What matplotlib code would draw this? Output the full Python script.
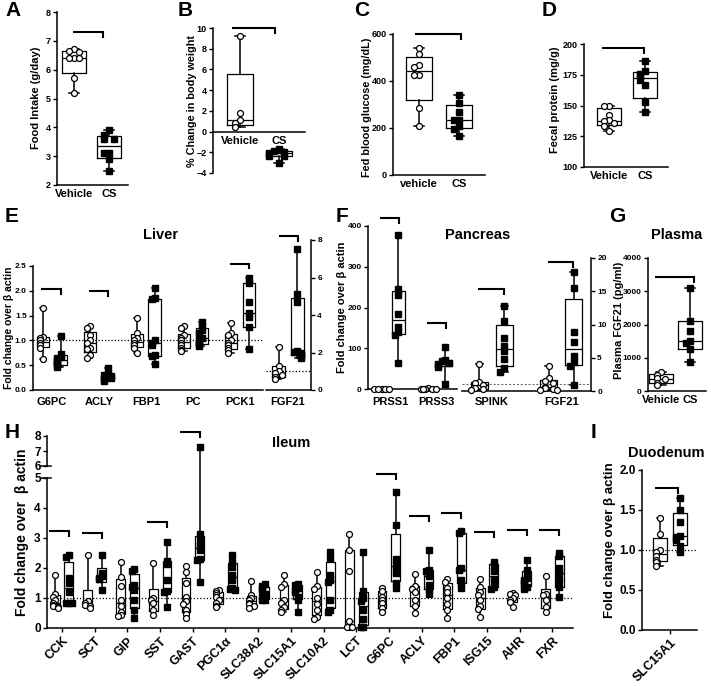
import matplotlib

matplotlib.use("Agg")

import matplotlib.pyplot as plt
import numpy as np
from matplotlib.ticker import FormatStrFormatter

plt.rcParams["font.family"] = ["Liberation Sans", "DejaVu Sans"]
plt.rcParams["font.weight"] = "bold"
plt.rcParams["axes.labelweight"] = "bold"
plt.rcParams["axes.linewidth"] = 1.1

W, H = 711, 686

# ---------------- data ----------------
two_groups = ["Vehicle", "CS"]

# A: food intake (g/day)
a_vehicle = [6.7, 6.65, 6.6, 6.4, 6.4, 6.4, 5.7, 5.2]
a_cs = [3.9, 3.75, 3.6, 3.6, 3.1, 3.1, 2.9, 2.5]

# B: % change in body weight
b_vehicle = [9.25, 1.8, 1.1, 0.8, 0.4]
b_cs = [-1.7, -1.9, -2.0, -2.1, -2.4, -2.4, -3.0]

# C: fed blood glucose (mg/dL)
c_vehicle = [540, 515, 470, 460, 425, 425, 285, 210]
c_cs = [340, 305, 270, 235, 232, 210, 195, 165]

# D: fecal protein (mg/g)
d_vehicle = [150, 150, 142, 138, 137, 136, 133, 129]
d_cs = [186, 178, 176, 174, 171, 167, 153, 145]

# E: liver, fold change over beta actin
liver_genes = ["G6PC", "ACLY", "FBP1", "PC", "PCK1"]
liver_vehicle = [
    [1.66, 1.07, 1.05, 1.0, 0.95, 0.9, 0.85, 0.62],
    [1.3, 1.25, 1.1, 1.0, 0.95, 0.85, 0.82, 0.7, 0.65],
    [1.45, 1.15, 1.05, 1.0, 0.95, 0.9, 0.85, 0.75],
    [1.3, 1.25, 1.1, 1.05, 1.0, 0.95, 0.9, 0.85, 0.8, 0.78],
    [1.35, 1.15, 1.1, 1.0, 0.95, 0.9, 0.85, 0.8, 0.75],
]
liver_cs = [
    [1.09, 0.73, 0.66, 0.62, 0.58, 0.55, 0.5, 0.47],
    [0.45, 0.33, 0.3, 0.28, 0.25, 0.22, 0.18],
    [2.05, 1.85, 1.83, 1.0, 0.95, 0.9, 0.7, 0.68, 0.52],
    [1.38, 1.3, 1.2, 1.15, 1.05, 1.0, 0.95, 0.9, 0.88],
    [2.25, 2.15, 1.78, 1.55, 1.48, 1.28, 0.83],
]
liver_fgf21_vehicle = [2.3, 1.3, 1.0, 0.9, 0.8, 0.7, 0.6]
liver_fgf21_cs = [7.5, 5.1, 4.7, 2.1, 2.05, 2.0, 1.9, 1.8, 1.7]

# F: pancreas
pancreas_genes_left = ["PRSS1", "PRSS3"]
pancreas_vehicle_left = [[1.2, 1.0, 0.9, 0.8, 1.1], [1.3, 1.0, 0.8, 0.9, 1.1, 0.7]]
pancreas_cs_left = [
    [378, 245, 230, 185, 152, 140, 133, 65],
    [103, 72, 68, 65, 62, 58, 55, 12],
]
pancreas_genes_right = ["SPINK", "FGF21"]
pancreas_vehicle_right = [
    [4.0, 1.4, 1.2, 0.9, 0.4, 0.3, 0.2],
    [3.8, 1.9, 1.5, 1.2, 0.6, 0.4, 0.3, 0.2, 0.2],
]
pancreas_cs_right = [
    [12.8, 10.6, 7.9, 6.7, 5.95, 4.8, 3.5, 2.8],
    [17.9, 15.5, 8.8, 7.3, 5.3, 4.4, 3.8, 0.9],
]

# G: plasma FGF21 (pg/ml)
g_vehicle = [575, 480, 400, 350, 250, 180]
g_cs = [3100, 2100, 1800, 1500, 1450, 1250, 860]

# H: ileum
ileum_genes = ["CCK", "SCT", "GIP", "SST", "GAST", "PGC1\u03b1", "SLC38A2",
               "SLC15A1", "SLC10A2", "LCT", "G6PC", "ACLY", "FBP1", "ISG15",
               "AHR", "FXR"]
ileum_vehicle = [
    [1.77, 1.15, 1.05, 0.95, 0.85, 0.77, 0.72, 0.7, 0.66],
    [2.43, 0.9, 0.82, 0.78, 0.72, 0.68],
    [2.2, 1.7, 1.4, 0.95, 0.72, 0.55, 0.45, 0.4],
    [2.17, 1.0, 0.95, 0.82, 0.6, 0.45],
    [2.08, 1.86, 1.5, 1.05, 0.9, 0.8, 0.6, 0.48, 0.32],
    [1.28, 1.22, 1.18, 1.1, 1.05, 0.95, 0.85, 0.75, 0.7],
    [1.57, 1.1, 1.0, 0.93, 0.85, 0.8, 0.75, 0.68],
    [1.77, 1.47, 1.38, 0.93, 0.85, 0.7, 0.6, 0.52],
    [1.88, 1.4, 1.3, 1.0, 0.8, 0.6, 0.38, 0.3],
    [3.15, 2.6, 1.9, 0.25, 0.05, 0.02, 0.02],
    [1.32, 1.22, 1.05, 0.95, 0.82, 0.66, 0.55],
    [1.8, 1.4, 1.3, 1.2, 0.95, 0.72, 0.5],
    [1.63, 1.55, 1.35, 1.2, 1.0, 0.8, 0.6, 0.33],
    [1.62, 1.38, 1.2, 1.1, 0.93, 0.72, 0.62, 0.38],
    [1.18, 1.15, 1.1, 1.0, 0.95, 0.88, 0.71],
    [1.75, 1.15, 1.1, 0.95, 0.7, 0.55],
]
ileum_cs = [
    [2.43, 2.38, 1.66, 1.5, 1.2, 0.83, 0.82, 0.82],
    [2.42, 1.85, 1.75, 1.68, 1.62, 1.27],
    [1.97, 1.9, 1.45, 1.38, 1.27, 0.93, 0.6, 0.32],
    [2.88, 2.25, 2.15, 1.6, 1.25, 1.2, 0.71],
    [7.25, 3.12, 2.9, 2.72, 2.6, 2.3, 2.27, 1.54],
    [2.43, 2.2, 2.05, 1.77, 1.6, 1.32, 1.3, 1.27],
    [1.47, 1.4, 1.3, 1.25, 1.15, 1.05, 0.95, 0.92],
    [1.48, 1.45, 1.32, 1.27, 1.2, 1.05, 0.95, 0.55],
    [2.52, 2.35, 1.77, 1.6, 1.55, 0.93, 0.6, 0.55],
    [2.55, 1.25, 1.0, 0.9, 0.6, 0.3, 0.05, 0.03],
    [4.52, 3.43, 2.3, 2.15, 2.0, 1.82, 1.5, 1.32],
    [2.6, 1.95, 1.9, 1.75, 1.45, 1.3, 1.15],
    [3.22, 3.16, 2.0, 1.93, 1.6, 1.5, 1.32],
    [2.2, 2.1, 1.9, 1.6, 1.38, 1.3],
    [2.28, 1.95, 1.7, 1.6, 1.55, 1.48, 1.38, 1.3],
    [2.5, 2.4, 2.0, 1.85, 1.6, 1.38, 1.05],
]
# significance bracket heights (fold change) for the ileum genes
ileum_sig = {"CCK": 3.23, "SCT": 3.17, "SST": 3.55, "GAST": 8.3, "G6PC": 5.33,
             "ACLY": 3.73, "FBP1": 3.83, "ISG15": 3.2, "AHR": 3.27, "FXR": 3.27}

# I: duodenum
duodenum_genes = ["SLC15A1"]
duodenum_vehicle = [1.4, 1.2, 1.0, 0.97, 0.92, 0.88, 0.85, 0.8]
duodenum_cs = [1.65, 1.5, 1.35, 1.18, 1.16, 1.12, 1.05, 0.98]

BETA_LABEL = "Fold change over \u03b2 actin"

fig = plt.figure(figsize=(W / 100, H / 100), dpi=100)


def add_ax(x0, y0, x1, y1):
    return fig.add_axes([x0 / W, 1 - y1 / H, (x1 - x0) / W, (y1 - y0) / H])


def quart(v, p):
    # Prism-style quartiles, position (n + 1) * p
    s = np.sort(np.asarray(v, float))
    n = len(s)
    pos = (n + 1) * p
    k = int(np.floor(pos))
    f = pos - k
    if k < 1:
        return s[0]
    if k >= n:
        return s[-1]
    return s[k - 1] + f * (s[k] - s[k - 1])


def box_points(ax, vals, pos, width, marker, step, delta, ms=4.3):
    vals = np.asarray(vals, float)
    st = dict(med=quart(vals, 0.5), q1=quart(vals, 0.25), q3=quart(vals, 0.75),
              whislo=vals.min(), whishi=vals.max(), fliers=[])
    lp = dict(color="k", lw=0.9)
    ax.bxp([st], positions=[pos], widths=width, capwidths=width * 0.4,
           showfliers=False, manage_ticks=False, boxprops=lp, medianprops=lp,
           whiskerprops=dict(color="k", lw=1.1), capprops=dict(color="k", lw=1.1))
    xs = np.zeros(len(vals))
    placed = []
    pattern = [0, -1, 1, -2, 2, -1.5, 1.5]
    for i in np.argsort(-vals):
        k = sum(abs(vals[i] - vals[j]) < delta for j in placed)
        xs[i] = pos + pattern[k % 7] * step
        placed.append(i)
    if marker == "o":
        ax.plot(xs, vals, "o", mfc="white", mec="k", mew=0.9, ms=ms, ls="none",
                zorder=3, clip_on=False)
    else:
        ax.plot(xs, vals, "s", color="k", ms=ms, ls="none", zorder=3, clip_on=False)


def bracket(ax, x0, x1, y, drop, lw=1.5):
    ax.plot([x0, x1, x1], [y, y, y - drop], color="k", lw=lw, clip_on=False,
            solid_capstyle="butt", solid_joinstyle="miter")


def style(ax, yfs=6.5, xfs=8, right=False, xpad=3):
    ax.spines["top"].set_visible(False)
    if right:
        ax.spines["left"].set_visible(False)
        ax.yaxis.tick_right()
    else:
        ax.spines["right"].set_visible(False)
    ax.tick_params(axis="y", length=3, width=1, labelsize=yfs, pad=1.5)
    ax.tick_params(axis="x", length=0, labelsize=xfs, pad=xpad)
    ax.patch.set_alpha(0)


def dotted(ax, y):
    ax.axhline(y, color="k", lw=0.9, ls=(0, (1, 1.6)), zorder=1)


def letter(x, y, s):
    fig.text(x / W, 1 - y / H, s, fontsize=15, weight="bold", ha="center", va="center")


def ylab(x, y, s, fs=8):
    fig.text(x / W, 1 - y / H, s, fontsize=fs, weight="bold", rotation=90,
             ha="center", va="center")


def title(x, y, s, fs=10.5):
    fig.text(x / W, 1 - y / H, s, fontsize=fs, weight="bold", ha="center", va="center")


# ---------------- A ----------------
ax = add_ax(57, 12, 128, 185)
box_points(ax, a_vehicle, 0, 0.69, "o", 0.15, 0.16)
box_points(ax, a_cs, 1, 0.69, "s", 0.15, 0.16)
ax.set_xlim(-0.49, 1.54)
ax.set_ylim(2, 8)
ax.set_xticks([0, 1], two_groups)
bracket(ax, -0.03, 0.83, 7.3, 0.2)
style(ax)
letter(13, 11, "A")
ylab(36, 98, "Food Intake (g/day)")

# ---------------- B ----------------
ax = add_ax(213, 28, 305, 173)
box_points(ax, b_vehicle, 0, 0.67, "o", 0.13, 0.5)
box_points(ax, b_cs, 1, 0.67, "s", 0.13, 0.5)
ax.set_xlim(-0.69, 1.67)
ax.set_ylim(-4, 10)
ax.set_yticks(np.arange(-4, 11, 2))
ax.set_xticks([0, 1], two_groups)
ax.spines["bottom"].set_position(("data", 0))
bracket(ax, -0.2, 0.9, 10, 0.55)
style(ax)
letter(185, 10, "B")
ylab(192, 101, "% Change in body weight", fs=7.8)

# ---------------- C ----------------
ax = add_ax(393, 34, 485, 175)
box_points(ax, c_vehicle, 0, 0.67, "o", 0.13, 21)
box_points(ax, c_cs, 1, 0.67, "s", 0.13, 21)
ax.set_xlim(-0.65, 1.65)
ax.set_ylim(0, 600)
ax.set_yticks([0, 200, 400, 600])
ax.set_xticks([0, 1], ["vehicle", "CS"])
bracket(ax, -0.1, 1.05, 600, 25)
style(ax)
letter(362, 10, "C")
ylab(367, 107, "Fed blood glucose (mg/dL)", fs=7.8)

# ---------------- D ----------------
ax = add_ax(584, 44, 668, 167)
box_points(ax, d_vehicle, 0, 0.67, "o", 0.14, 4)
box_points(ax, d_cs, 1, 0.67, "s", 0.14, 4)
ax.set_xlim(-0.69, 1.64)
ax.set_ylim(100, 200)
ax.set_yticks([100, 125, 150, 175, 200])
ax.set_xticks([0, 1], two_groups)
bracket(ax, -0.19, 0.97, 197, 5)
style(ax)
letter(549, 10, "D")
ylab(555, 100, "Fecal protein (mg/g)")

# ---------------- E ----------------
ax = add_ax(33, 266, 263, 390)
dotted(ax, 1.0)
for i, (v, c) in enumerate(zip(liver_vehicle, liver_cs)):
    box_points(ax, v, i - 0.19, 0.27, "o", 0.07, 0.06)
    box_points(ax, c, i + 0.19, 0.27, "s", 0.07, 0.06)
ax.set_xlim(-0.40, 4.49)
ax.set_ylim(0, 2.5)
ax.set_yticks(np.arange(0, 2.51, 0.5))
ax.yaxis.set_major_formatter(FormatStrFormatter("%.1f"))
ax.set_xticks(range(len(liver_genes)), liver_genes)
for i, y in [(0, 2.03), (1, 2.0), (4, 2.55)]:
    bracket(ax, i - 0.22, i + 0.2, y, 0.12)
style(ax, yfs=6, xpad=5)

ax = add_ax(266, 240, 311, 390)
dotted(ax, 1.0)
box_points(ax, liver_fgf21_vehicle, -0.2, 0.28, "o", 0.08, 0.2)
box_points(ax, liver_fgf21_cs, 0.2, 0.28, "s", 0.08, 0.2)
ax.set_xlim(-0.47, 0.49)
ax.set_ylim(0, 8)
ax.set_yticks([0, 2, 4, 6, 8])
ax.set_xticks([0], ["FGF21"])
bracket(ax, -0.2, 0.21, 8.2, 0.32)
style(ax, yfs=6, right=True, xpad=5)

letter(12, 217, "E")
title(161, 235, "Liver")
ylab(9, 328, BETA_LABEL, fs=7.5)

# ---------------- F ----------------
ax = add_ax(368, 226, 457, 389)
dotted(ax, 1.0)
for i, (v, c) in enumerate(zip(pancreas_vehicle_left, pancreas_cs_left)):
    box_points(ax, v, i - 0.18, 0.28, "o", 0.08, 12)
    box_points(ax, c, i + 0.18, 0.28, "s", 0.08, 12)
ax.set_xlim(-0.47, 1.43)
ax.set_ylim(0, 400)
ax.set_yticks([0, 100, 200, 300, 400])
ax.set_xticks(range(2), pancreas_genes_left)
bracket(ax, -0.21, 0.19, 420, 15)
bracket(ax, 1 - 0.21, 1.19, 163, 15)
style(ax, yfs=6, xpad=6)

ax = add_ax(462, 258, 591, 391)
ax.axhline(1.1, color="0.35", lw=0.7, ls=(0, (2, 2)), zorder=1)
for i, (v, c) in enumerate(zip(pancreas_vehicle_right, pancreas_cs_right)):
    box_points(ax, v, i - 0.18, 0.24, "o", 0.06, 0.75)
    box_points(ax, c, i + 0.18, 0.24, "s", 0.06, 0.75)
ax.set_xlim(-0.43, 1.43)
ax.set_ylim(0, 20)
ax.set_yticks([0, 5, 10, 15, 20])
ax.set_xticks(range(2), pancreas_genes_right)
bracket(ax, -0.2, 0.17, 15.3, 0.9)
bracket(ax, 1 - 0.19, 1.17, 19.4, 0.9)
style(ax, yfs=6, right=True, xpad=4)

letter(342, 216, "F")
title(478, 235, "Pancreas")
ylab(342, 307, BETA_LABEL, fs=8)

# ---------------- G ----------------
ax = add_ax(648, 258, 706, 391)
box_points(ax, g_vehicle, 0, 0.8, "o", 0.15, 150)
box_points(ax, g_cs, 1, 0.8, "s", 0.15, 150)
ax.set_xlim(-0.45, 1.55)
ax.set_ylim(0, 4000)
ax.set_yticks([0, 1000, 2000, 3000, 4000])
ax.set_xticks([0, 1], two_groups)
bracket(ax, -0.2, 1.14, 3420, 180)
style(ax, yfs=6)
letter(617, 217, "G")
title(677, 235, "Plasma")
ylab(619, 320, "Plasma FGF21 (pg/ml)")


# ---------------- H ----------------
def fwd(y):
    y = np.asarray(y, float)
    return np.where(y <= 5, y, np.where(y <= 6, 5 + 0.4 * (y - 5), 5.4 + 0.5 * (y - 6)))


def inv(t):
    t = np.asarray(t, float)
    return np.where(t <= 5, t, np.where(t <= 5.4, 5 + (t - 5) / 0.4, 6 + (t - 5.4) / 0.5))


ax = add_ax(47, 436, 573, 628)
ax.set_yscale("function", functions=(fwd, inv))
dotted(ax, 1.0)
for i, (v, c) in enumerate(zip(ileum_vehicle, ileum_cs)):
    box_points(ax, v, i - 0.21, 0.27, "o", 0.08, 0.1)
    box_points(ax, c, i + 0.21, 0.27, "s", 0.08, 0.1)
ax.set_xlim(-0.46, 15.63)
ax.set_ylim(0, 8)
ax.set_yticks(range(9))
ax.set_xticks(range(len(ileum_genes)))
ax.set_xticklabels(ileum_genes, rotation=45, ha="right", rotation_mode="anchor")
for g, y in ileum_sig.items():
    i = ileum_genes.index(g)
    bracket(ax, i - 0.4, i + 0.21, y, y - float(inv(fwd(y) - 0.2)))
style(ax, yfs=8.5, xfs=9)
ax.tick_params(axis="x", length=3, width=1, pad=2)
ax.spines["left"].set_bounds(0, 5)
ytr = ax.get_yaxis_transform()
ax.plot([0, 0], [6, 8], color="k", lw=1.1, transform=ytr, clip_on=False)
for yb in (5, 6):
    ax.plot([-0.012, 0.008], [yb, yb], color="k", lw=1.1, transform=ytr, clip_on=False)
letter(12, 432, "H")
title(291, 443, "Ileum")
ylab(22, 532, "Fold change over  \u03b2 actin", fs=10)

# ---------------- I ----------------
ax = add_ax(642, 470, 697, 630)
dotted(ax, 1.0)
box_points(ax, duodenum_vehicle, -0.25, 0.37, "o", 0.1, 0.05)
box_points(ax, duodenum_cs, 0.25, 0.37, "s", 0.1, 0.05)
ax.set_xlim(-0.7, 0.675)
ax.set_ylim(0, 2)
ax.set_yticks(np.arange(0, 2.01, 0.5))
ax.yaxis.set_major_formatter(FormatStrFormatter("%.1f"))
ax.set_xticks([0])
ax.set_xticklabels(duodenum_genes, rotation=45, ha="right", rotation_mode="anchor")
bracket(ax, -0.38, 0.2, 1.78, 0.075)
style(ax, yfs=8.5, xfs=9)
ax.tick_params(axis="x", length=3, width=1, pad=2)
letter(594, 432, "I")
title(666, 453, "Duodenum")
ylab(610, 540, BETA_LABEL, fs=9.5)

fig.savefig("out.png", dpi=100)
